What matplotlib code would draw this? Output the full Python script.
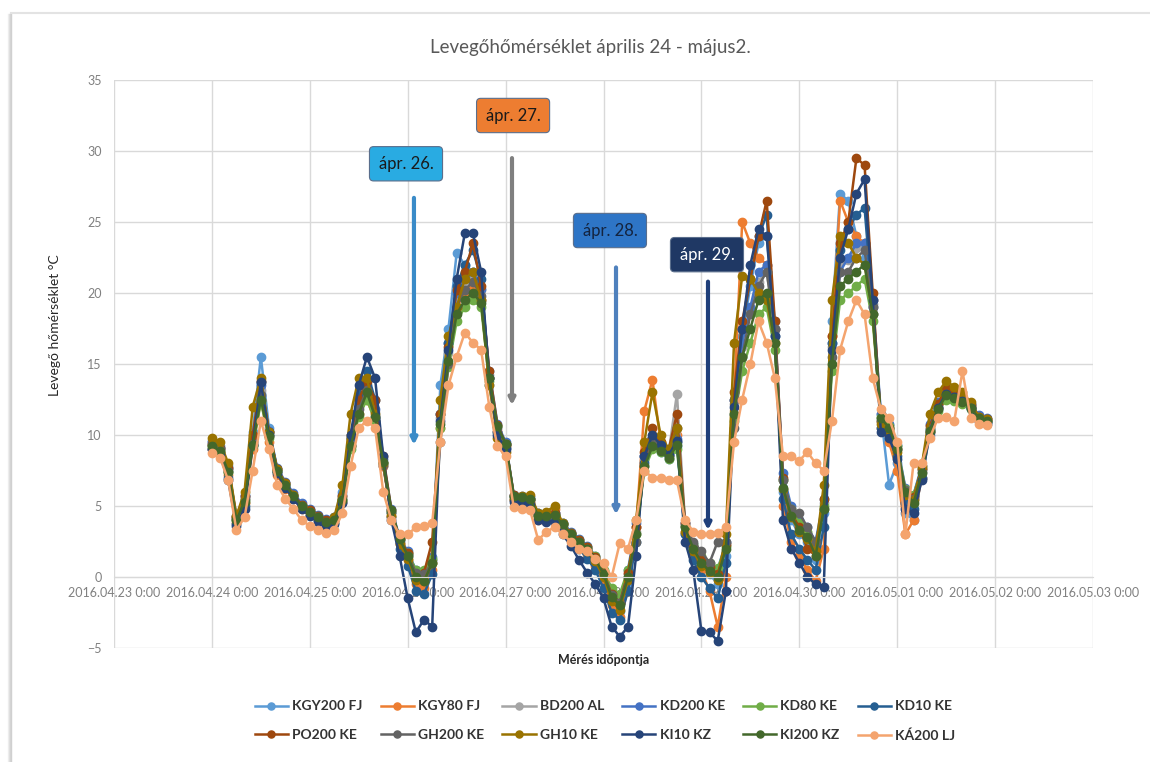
import matplotlib
matplotlib.use('Agg')
import matplotlib.pyplot as plt
from matplotlib.lines import Line2D
import pandas as pd
from datetime import datetime

plt.rcParams['font.family'] = ['Lato', 'DejaVu Sans']

# measurement times: every 2 hours from 04.24 0:00
times = pd.date_range('2016-04-24 00:00', periods=96, freq='2h').to_pydatetime()

series_names = ['KGY200 FJ', 'KGY80 FJ', 'BD200 AL', 'KD200 KE', 'KD80 KE', 'KD10 KE',
                'PO200 KE', 'GH200 KE', 'GH10 KE', 'KI10 KZ', 'KI200 KZ', 'KÁ200 LJ']
series_colors = ['#5B9BD5', '#ED7D31', '#A5A5A5', '#4472C4', '#70AD47', '#255E91',
                 '#9E480E', '#636363', '#997300', '#264478', '#43682B', '#F4A46E']

kgy200_fj = [9.6, 9.2, 7.8, 4.2, 5.8, 10.2, 15.5, 10.5, 7.6, 6.6, 5.8, 5.1,
             4.7, 4.3, 4.0, 4.2, 6.0, 10.0, 12.5, 13.0, 11.0, 7.8, 4.6, 2.8,
             1.6, 0.3, 0.2, 1.2, 13.5, 17.5, 22.8, 22.0, 21.5, 19.5, 13.5, 10.2,
             9.4, 5.7, 5.6, 5.5, 4.5, 4.4, 4.5, 3.8, 3.1, 2.6, 2.0, 1.2,
             0.0, -1.8, -2.4, -0.5, 3.5, 8.5, 9.8, 8.8, 8.3, 9.2, 3.0, 1.5,
             0.8, 0.2, -0.5, 1.5, 11.5, 17.0, 20.5, 23.5, 24.0, 18.0, 6.0, 4.0,
             3.0, 2.5, 1.2, 4.5, 18.0, 27.0, 26.5, 24.0, 22.5, 18.5, 11.5, 6.5,
             8.0, 4.5, 4.0, 7.0, 10.0, 11.8, 12.8, 12.5, 12.3, 11.8, 11.0, 10.9]
kgy80_fj = [9.0, 8.8, 7.2, 3.8, 5.2, 9.0, 12.5, 9.5, 7.2, 6.2, 5.5, 4.8,
            4.4, 4.0, 3.7, 3.9, 5.3, 9.2, 11.5, 12.5, 11.0, 7.8, 4.3, 2.3,
            1.2, -0.5, -0.8, 0.5, 10.5, 15.0, 19.0, 20.0, 20.5, 19.5, 14.0, 10.3,
            9.2, 5.4, 5.3, 5.3, 4.0, 4.0, 4.8, 3.4, 2.8, 2.2, 1.6, 0.8,
            -0.3, -2.0, -2.8, -1.0, 3.5, 11.7, 13.9, 9.5, 8.8, 10.0, 3.2, 1.5,
            0.5, -1.0, -3.5, 0.0, 12.5, 25.0, 23.5, 22.5, 22.0, 17.5, 5.0, 2.5,
            1.5, 0.5, -0.3, 2.0, 17.0, 26.5, 25.0, 24.0, 23.5, 19.5, 10.5, 9.5,
            7.5, 3.0, 4.0, 7.0, 10.2, 12.0, 13.2, 13.0, 12.6, 12.0, 11.3, 11.0]
bd200_al = [9.4, 9.1, 7.6, 4.1, 5.6, 9.6, 13.2, 10.1, 7.6, 6.6, 5.8, 5.1,
            4.7, 4.3, 4.0, 4.1, 5.6, 9.6, 12.2, 13.6, 11.6, 8.1, 4.6, 2.6,
            1.6, 0.2, 0.2, 1.2, 11.2, 15.8, 19.8, 20.8, 21.2, 20.2, 14.2, 10.6,
            9.4, 5.7, 5.6, 5.5, 4.4, 4.3, 4.4, 3.7, 3.1, 2.6, 2.1, 1.4,
            0.3, -1.3, -1.8, 0.2, 3.2, 8.2, 9.8, 9.3, 8.8, 12.9, 3.8, 2.2,
            1.2, 0.8, 0.3, 2.2, 12.2, 16.2, 18.8, 20.8, 21.5, 17.5, 6.8, 4.8,
            3.8, 3.2, 2.2, 5.2, 16.2, 22.2, 22.3, 23.2, 23.5, 19.2, 11.2, 10.7,
            9.2, 6.2, 5.7, 7.7, 10.7, 12.2, 13.1, 12.9, 12.6, 12.1, 11.3, 11.1]
kd200_ke = [9.5, 9.1, 7.7, 4.3, 5.7, 9.8, 13.5, 10.3, 7.7, 6.7, 5.9, 5.2,
            4.8, 4.4, 4.1, 4.2, 5.8, 9.8, 12.3, 13.8, 11.8, 8.3, 4.8, 2.8,
            1.8, 0.5, 0.4, 1.4, 11.5, 16.5, 20.0, 21.2, 21.5, 20.3, 14.5, 10.8,
            9.5, 5.8, 5.7, 5.6, 4.5, 4.4, 4.5, 3.8, 3.2, 2.7, 2.2, 1.5,
            0.4, -1.0, -1.5, 0.5, 3.8, 8.5, 9.8, 9.2, 8.7, 9.7, 3.8, 2.3,
            1.3, 0.8, 0.5, 2.5, 12.5, 16.5, 19.0, 21.5, 22.0, 17.5, 7.3, 5.0,
            4.0, 3.5, 2.5, 5.5, 16.5, 21.5, 22.5, 23.5, 23.5, 19.5, 11.5, 10.8,
            9.3, 6.3, 5.8, 7.8, 10.8, 12.3, 13.2, 13.0, 12.7, 12.2, 11.4, 11.2]
kd80_ke = [9.2, 8.9, 7.4, 4.0, 5.4, 9.2, 12.3, 9.8, 7.5, 6.5, 5.7, 5.0,
           4.6, 4.2, 3.9, 4.0, 5.4, 9.0, 11.3, 12.5, 11.0, 8.0, 4.6, 2.7,
           1.7, 0.5, 0.5, 1.3, 10.5, 14.8, 18.0, 19.0, 19.5, 19.0, 13.8, 10.6,
           9.4, 5.7, 5.6, 5.5, 4.4, 4.3, 4.4, 3.7, 3.1, 2.6, 2.1, 1.5,
           0.5, -0.8, -1.2, 0.5, 3.0, 7.5, 9.0, 8.8, 8.3, 9.0, 3.6, 2.3,
           1.5, 1.0, 0.6, 2.2, 11.0, 14.5, 16.5, 18.5, 19.0, 16.0, 6.8, 4.8,
           3.8, 3.2, 2.3, 5.0, 14.5, 19.5, 20.0, 20.5, 21.0, 18.0, 11.3, 10.6,
           9.2, 6.2, 5.8, 7.6, 10.3, 11.7, 12.5, 12.4, 12.2, 11.8, 11.2, 11.0]
kd10_ke = [9.0, 8.7, 7.0, 3.7, 5.0, 9.5, 13.7, 10.2, 7.5, 6.4, 5.6, 4.9,
           4.4, 4.0, 3.7, 3.8, 5.3, 9.8, 12.8, 14.5, 12.5, 8.0, 4.2, 2.0,
           0.8, -1.0, -1.2, 0.2, 11.5, 16.5, 20.5, 22.0, 23.0, 21.0, 14.0, 10.2,
           9.1, 5.4, 5.3, 5.2, 4.1, 4.0, 4.1, 3.3, 2.7, 2.0, 1.3, 0.5,
           -0.8, -2.5, -3.0, -1.0, 2.5, 8.0, 9.8, 9.2, 8.6, 9.5, 3.0, 1.2,
           0.0, -0.8, -1.5, 1.0, 12.5, 17.5, 21.0, 24.0, 25.5, 17.0, 5.5, 3.0,
           2.0, 1.2, 0.5, 3.5, 16.5, 23.0, 24.5, 25.5, 26.0, 19.0, 10.5, 10.0,
           8.5, 5.2, 4.8, 7.0, 10.4, 12.0, 13.0, 12.8, 12.5, 12.0, 11.1, 10.9]
po200_ke = [9.4, 9.1, 7.7, 4.2, 5.7, 10.0, 13.8, 10.2, 7.6, 6.6, 5.8, 5.1,
            4.7, 4.3, 4.0, 4.1, 5.7, 10.0, 12.5, 13.8, 12.5, 8.5, 4.7, 2.7,
            1.7, 0.2, 0.3, 2.5, 11.5, 16.2, 20.2, 21.5, 23.5, 20.5, 14.5, 10.7,
            9.4, 5.8, 5.6, 5.5, 4.4, 4.4, 4.5, 3.7, 3.1, 2.6, 2.1, 1.4,
            0.3, -1.2, -1.8, 0.3, 3.5, 8.8, 10.5, 9.5, 9.0, 11.5, 3.8, 2.2,
            1.2, 0.7, 0.2, 2.3, 13.0, 18.0, 21.0, 24.0, 26.5, 18.0, 7.0, 4.5,
            3.5, 2.0, 1.5, 5.5, 17.0, 23.5, 25.0, 29.5, 29.0, 20.0, 11.0, 10.5,
            9.0, 6.0, 5.6, 7.6, 10.6, 12.2, 13.3, 13.0, 12.7, 12.1, 11.3, 11.1]
gh200_ke = [9.3, 9.0, 7.5, 4.1, 5.5, 9.4, 12.8, 9.9, 7.4, 6.5, 5.7, 5.0,
            4.6, 4.2, 3.9, 4.0, 5.5, 9.3, 11.8, 13.2, 11.3, 7.9, 4.5, 2.5,
            1.5, 0.3, 0.2, 1.0, 9.5, 15.0, 19.0, 20.2, 20.8, 19.8, 14.0, 10.5,
            9.3, 5.6, 5.5, 5.4, 4.3, 4.2, 4.3, 3.6, 3.0, 2.5, 2.0, 1.3,
            0.2, -1.3, -1.8, 0.0, 2.5, 7.8, 9.5, 9.0, 8.5, 10.5, 3.6, 2.5,
            1.8, 1.0, 2.5, 2.5, 10.5, 15.5, 18.5, 20.5, 21.5, 17.5, 6.8, 4.8,
            4.5, 3.5, 2.5, 4.8, 15.5, 21.5, 21.5, 22.5, 23.0, 19.0, 11.0, 10.4,
            9.0, 6.1, 5.5, 7.4, 10.4, 11.9, 12.9, 12.7, 12.4, 11.9, 11.2, 11.0]
gh10_ke = [9.8, 9.5, 8.0, 4.3, 6.0, 12.0, 14.0, 10.2, 7.6, 6.6, 5.8, 5.0,
           4.6, 4.1, 3.8, 4.2, 6.5, 11.5, 14.0, 14.0, 11.5, 8.0, 4.3, 2.3,
           1.3, -0.2, -0.3, 1.0, 12.5, 17.0, 19.0, 21.0, 21.5, 19.5, 13.5, 9.8,
           8.8, 5.5, 5.7, 5.8, 4.5, 4.6, 5.0, 3.8, 3.0, 2.4, 1.8, 1.1,
           0.0, -1.7, -2.3, -0.2, 4.0, 9.5, 13.0, 10.0, 9.0, 10.5, 3.2, 1.8,
           0.8, 0.3, -0.2, 3.0, 16.5, 21.2, 21.0, 20.0, 19.5, 16.5, 6.2, 4.2,
           3.2, 2.7, 1.8, 6.5, 19.5, 24.0, 23.5, 22.5, 22.0, 18.5, 10.8, 10.3,
           8.8, 5.8, 5.4, 7.8, 11.5, 13.0, 13.8, 13.4, 13.0, 12.3, 11.3, 11.1]
ki10_kz = [9.0, 8.6, 6.8, 3.6, 4.8, 9.3, 13.7, 10.0, 7.3, 6.3, 5.5, 4.8,
           4.3, 3.9, 3.6, 3.7, 5.2, 10.0, 13.5, 15.5, 14.0, 8.5, 4.0, 1.5,
           -1.5, -3.9, -3.0, -3.5, 11.0, 16.0, 21.0, 24.2, 24.2, 21.5, 14.0, 10.0,
           9.0, 5.3, 5.2, 5.1, 4.0, 3.9, 3.9, 3.0, 2.2, 1.2, 0.3, -0.5,
           -1.5, -3.5, -4.2, -3.5, 1.5, 8.5, 10.0, 9.3, 8.6, 9.6, 2.5, 0.5,
           -3.8, -3.9, -4.5, -1.0, 12.0, 17.5, 22.0, 24.5, 24.0, 17.0, 4.0, 2.0,
           1.0, 0.0, -0.5, -0.7, 16.0, 22.5, 24.5, 27.0, 28.0, 19.5, 10.2, 9.8,
           8.3, 4.8, 4.5, 6.8, 10.2, 11.9, 12.9, 12.7, 12.4, 11.9, 11.0, 10.8]
ki200_kz = [9.2, 8.9, 7.4, 4.0, 5.3, 9.3, 12.5, 9.9, 7.5, 6.5, 5.7, 5.0,
            4.6, 4.2, 3.9, 4.0, 5.4, 9.2, 11.5, 13.0, 11.3, 8.1, 4.7, 2.7,
            1.5, 0.0, -0.3, 1.0, 10.8, 15.2, 18.5, 19.5, 20.0, 19.3, 14.0, 10.6,
            9.4, 5.7, 5.6, 5.5, 4.3, 4.3, 4.4, 3.7, 3.0, 2.5, 2.0, 1.3,
            0.2, -1.4, -2.0, 0.0, 3.0, 7.8, 9.2, 8.9, 8.4, 9.3, 3.5, 2.0,
            1.0, 0.4, 0.0, 2.0, 11.5, 15.5, 17.5, 19.5, 20.0, 16.5, 6.3, 4.3,
            3.3, 2.8, 1.5, 4.8, 15.0, 20.5, 21.0, 21.5, 22.0, 18.5, 11.2, 10.5,
            9.0, 6.0, 5.2, 7.3, 10.3, 11.8, 12.8, 12.6, 12.3, 11.9, 11.2, 11.0]
ka200_lj = [8.7, 8.4, 6.8, 3.3, 4.2, 7.5, 11.0, 9.0, 6.5, 5.5, 4.8, 4.0,
            3.6, 3.3, 3.1, 3.3, 4.5, 7.8, 10.5, 11.0, 10.5, 6.0, 4.0, 3.0,
            3.0, 3.5, 3.6, 3.8, 9.5, 13.5, 15.5, 17.2, 16.5, 16.0, 12.0, 9.2,
            8.5, 4.9, 4.8, 4.7, 2.6, 3.2, 3.5, 3.0, 2.5, 2.0, 1.8, 1.3,
            1.0, 0.0, 2.4, 2.0, 4.0, 7.5, 7.0, 7.0, 6.8, 6.8, 4.0, 3.2,
            3.0, 3.0, 3.1, 3.5, 9.5, 12.5, 15.0, 18.0, 16.5, 14.0, 8.5, 8.5,
            8.2, 8.8, 8.0, 7.5, 11.0, 16.0, 18.0, 19.5, 18.5, 14.0, 11.8, 11.2,
            9.5, 3.0, 8.0, 8.0, 9.8, 11.2, 11.3, 11.0, 14.5, 11.2, 10.8, 10.7]

all_series = [kgy200_fj, kgy80_fj, bd200_al, kd200_ke, kd80_ke, kd10_ke,
              po200_ke, gh200_ke, gh10_ke, ki10_kz, ki200_kz, ka200_lj]

# callouts: label, box centre (time, temp), arrow tail / tip temp, arrow time
note_labels = ['ápr. 26.', 'ápr. 27.', 'ápr. 28.', 'ápr. 29.']
note_box_t = [datetime(2016, 4, 25, 23, 35), datetime(2016, 4, 27, 1, 50),
              datetime(2016, 4, 28, 1, 35), datetime(2016, 4, 29, 1, 22)]
note_box_y = [29.1, 32.5, 24.4, 22.7]
note_arrow_t = [datetime(2016, 4, 26, 1, 32), datetime(2016, 4, 27, 1, 34),
                datetime(2016, 4, 28, 3, 4), datetime(2016, 4, 29, 1, 37)]
note_arrow_top = [26.7, 29.5, 21.8, 20.8]
note_arrow_tip = [9.3, 12.1, 4.4, 3.3]
note_fill = ['#29ABE2', '#ED7D31', '#2E75C6', '#1F3864']
note_text = ['#1A1A1A', '#1A1A1A', '#14243F', 'white']
note_arrow_col = ['#3A8BC8', '#7F7F7F', '#4F81BD', '#1F3F7A']

fig = plt.figure(figsize=(11.5, 7.62), dpi=100)

# chart-area frame with a soft shadow on the left
for i, a in enumerate([0.10, 0.18, 0.30]):
    fig.add_artist(Line2D([(8 + i) / 1150] * 2, [0, 1 - 14 / 762], transform=fig.transFigure,
                          color='#808080', alpha=a, lw=1))
fig.add_artist(Line2D([11 / 1150, 11 / 1150], [0, 1 - 13 / 762], transform=fig.transFigure,
                      color='#D0D0D0', lw=1))
fig.add_artist(Line2D([11 / 1150, 1], [1 - 13 / 762] * 2, transform=fig.transFigure,
                      color='#E3E3E3', lw=1.5))

ax = fig.add_axes([114 / 1150, 1 - 648 / 762, (1093 - 114) / 1150, (648 - 80) / 762])

for name, vals, col in zip(series_names, all_series, series_colors):
    ax.plot(times, vals, color=col, lw=1.8, marker='o', ms=6, label=name)

day_ticks = pd.date_range('2016-04-23', '2016-05-03', freq='D').to_pydatetime()
ax.set_xlim(day_ticks[0], day_ticks[-1])
ax.set_xticks(day_ticks)
ax.set_xticklabels([d.strftime('%Y.%m.%d') + ' 0:00' for d in day_ticks])
ax.set_ylim(-5, 35)
ax.set_yticks(range(-5, 40, 5))

ax.grid(True, color='#D9D9D9', lw=1)
ax.tick_params(length=0, colors='#808080', labelsize=9)
ax.tick_params(axis='x', pad=7)
ax.tick_params(axis='y', pad=9)
for s in ['top', 'right', 'left']:
    ax.spines[s].set_visible(False)
ax.spines['bottom'].set_position(('data', 0))
ax.spines['bottom'].set_color('#D9D9D9')

for lab, bt, by, at, atop, atip, fc, tc, ac in zip(note_labels, note_box_t, note_box_y,
                                                    note_arrow_t, note_arrow_top, note_arrow_tip,
                                                    note_fill, note_text, note_arrow_col):
    ax.annotate('', xy=(at, atip), xytext=(at, atop),
                arrowprops=dict(arrowstyle='-|>', color=ac, lw=3, mutation_scale=9,
                                shrinkA=0, shrinkB=0), zorder=5)
    ax.text(bt, by, lab, ha='center', va='center', fontsize=12, color=tc, zorder=6,
            bbox=dict(boxstyle='round,pad=0.55,rounding_size=0.25', fc=fc, ec='#5A6E8C', lw=0.8))

fig.text(590 / 1150, 1 - 47 / 762, 'Levegőhőmérséklet április 24 - május2.',
         ha='center', va='center', fontsize=13.5, color='#595959')
fig.text(55 / 1150, 1 - 325 / 762, 'Levegő hőmérséklet °C', rotation=90,
         ha='center', va='center', fontsize=10, color='#262626')
fig.text(604 / 1150, 1 - 660 / 762, 'Mérés időpontja', ha='center', va='center',
         fontsize=9, fontweight='bold', color='#262626')

handles, labels = ax.get_legend_handles_labels()
order = [0, 6, 1, 7, 2, 8, 3, 9, 4, 10, 5, 11]
leg = fig.legend([handles[i] for i in order], [labels[i] for i in order], ncol=6,
                 loc='center', bbox_to_anchor=(605 / 1150, 1 - 721 / 762), frameon=False,
                 prop={'weight': 'bold', 'size': 10}, handlelength=2.4, handletextpad=0.3,
                 columnspacing=1.3, labelspacing=1.2, markerscale=0.85)
for t in leg.get_texts():
    t.set_color('#333333')

fig.savefig('out.png', dpi=100)
